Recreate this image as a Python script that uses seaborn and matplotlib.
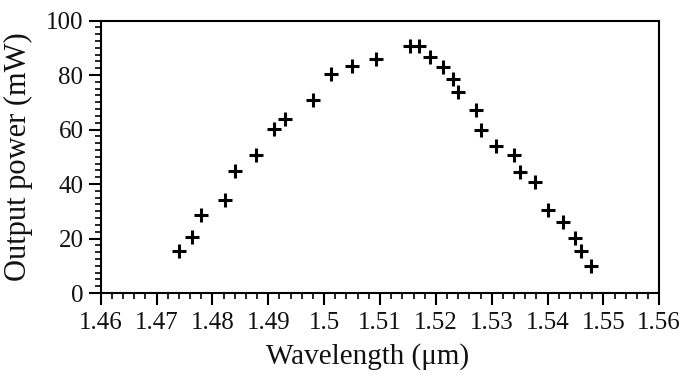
import matplotlib
matplotlib.use("Agg")
import matplotlib.pyplot as plt
from matplotlib.ticker import MultipleLocator
import seaborn as sns
import pandas as pd

# Measured laser output power versus wavelength
wavelength_um = [1.4740, 1.4763, 1.4780, 1.4822, 1.4840, 1.4878, 1.4910, 1.4930,
                 1.4980, 1.5013, 1.5050, 1.5092, 1.5153, 1.5170, 1.5190, 1.5212,
                 1.5230, 1.5240, 1.5272, 1.5280, 1.5308, 1.5340, 1.5350, 1.5377,
                 1.5400, 1.5427, 1.5450, 1.5460, 1.5478]
power_mw = [15.4, 20.5, 28.6, 34.3, 44.6, 50.7, 60.1, 63.9,
            71.0, 80.5, 83.2, 85.8, 90.5, 90.5, 86.6, 83.0,
            78.4, 73.6, 67.2, 59.9, 54.1, 50.5, 44.3, 40.6,
            30.4, 26.0, 20.3, 15.4, 10.0]

x_ticks = [1.46, 1.47, 1.48, 1.49, 1.50, 1.51, 1.52, 1.53, 1.54, 1.55, 1.56]
x_tick_labels = ["1.46", "1.47", "1.48", "1.49", "1.5", "1.51", "1.52",
                 "1.53", "1.54", "1.55", "1.56"]
y_ticks = [0, 20, 40, 60, 80, 100]

df = pd.DataFrame({"wavelength": wavelength_um, "power": power_mw})

sns.set_theme(style="ticks")
plt.rcParams["font.family"] = ["Liberation Serif", "DejaVu Serif"]

fig = plt.figure(figsize=(6.81, 3.77), dpi=100)
ax = fig.add_axes([0.148, 0.2228, 0.820, 0.7228])

sns.scatterplot(data=df, x="wavelength", y="power", marker="+", s=110,
                color="black", linewidth=2.2, ax=ax, legend=False)

ax.set_xlim(1.46, 1.56)
ax.set_ylim(0, 100)
ax.set_xticks(x_ticks)
ax.set_xticklabels(x_tick_labels)
ax.set_yticks(y_ticks)
ax.xaxis.set_minor_locator(MultipleLocator(0.002))
ax.yaxis.set_minor_locator(MultipleLocator(2.5))

ax.tick_params(axis="both", which="major", direction="out", length=8.5,
               width=1.5, color="black", labelsize=18, labelcolor="#111111")
ax.tick_params(axis="x", which="major", pad=5)
ax.tick_params(axis="y", which="major", pad=4)
ax.tick_params(axis="both", which="minor", direction="out", length=4,
               width=1.2, color="black")
ax.tick_params(top=False, right=False, which="both")

for side in ["left", "bottom", "top", "right"]:
    ax.spines[side].set_visible(True)
    ax.spines[side].set_linewidth(1.5)
    ax.spines[side].set_color("black")

ax.set_xlabel("Wavelength (μm)", fontsize=21, color="#111111")
ax.set_ylabel("Output power (mW)", fontsize=22, color="#111111")
ax.xaxis.set_label_coords(0.477, -0.1835)
ax.yaxis.set_label_coords(-0.122, 0.5)

fig.savefig("out.png", dpi=100, facecolor="white")
